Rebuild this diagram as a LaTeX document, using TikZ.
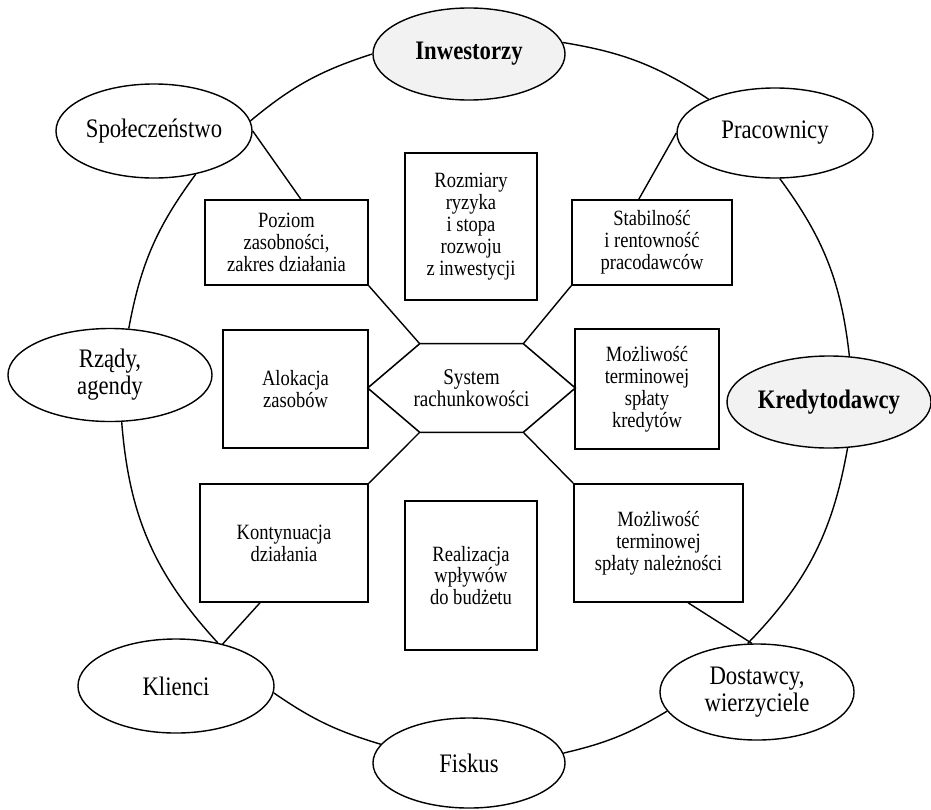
\documentclass[tikz,border=0pt]{standalone}
\usepackage{fontspec}
\setmainfont{Liberation Serif}[FakeStretch=0.85]
\usetikzlibrary{positioning,calc,shapes.geometric}
\definecolor{keyfill}{HTML}{F2F2F2}

\begin{document}
\begin{tikzpicture}[x=0.025cm,y=0.025cm,
    party/.style={ellipse,draw,line width=1pt,fill=white,inner sep=0pt,align=center,font=\fontsize{19}{19.2}\selectfont},
    keyparty/.style={party,fill=keyfill,font=\fontsize{19}{19.2}\selectfont\bfseries},
    info/.style={rectangle,draw,line width=1.1pt,inner sep=0pt,align=center,font=\fontsize{15.5}{15.6}\selectfont},
    link/.style={line width=1pt}]
\useasboundingbox (0,0) rectangle (931,-809);

\node[keyparty,minimum width=4.8cm,minimum height=2.3cm] (inw) at (469,-54) {Inwestorzy};
\node[party,minimum width=4.9cm,minimum height=2.35cm] (spol) at (154,-131) {Społeczeństwo};
\node[party,minimum width=4.9cm,minimum height=2.25cm] (prac) at (775,-133) {Pracownicy};
\node[party,minimum width=5.1cm,minimum height=2.325cm] (rzady) at (110,-375) {Rządy,\\agendy};
\node[keyparty,minimum width=5.1cm,minimum height=2.3cm] (kred) at (829,-402) {Kredytodawcy};
\node[party,minimum width=4.9cm,minimum height=2.35cm] (klienci) at (176,-686) {Klienci};
\node[party,minimum width=4.85cm,minimum height=2.4cm] (dost) at (757,-692) {Dostawcy,\\wierzyciele};
\node[party,minimum width=4.8cm,minimum height=2.25cm] (fiskus) at (469,-763) {Fiskus};

\node[info,minimum width=4.075cm,minimum height=2.125cm] (poziom) at (286.5,-242.5) {Poziom\\zasobności,\\zakres działania};
\node[info,minimum width=3.3cm,minimum height=3.675cm] (rozm) at (471,-226.5) {Rozmiary\\ryzyka\\i stopa\\rozwoju\\z inwestycji};
\node[info,minimum width=4cm,minimum height=2.125cm] (stab) at (652,-242.5) {Stabilność\\i rentowność\\pracodawców};
\node[info,minimum width=3.625cm,minimum height=2.95cm] (aloc) at (295.5,-389) {Alokacja\\zasobów};
\node[info,minimum width=3.6cm,minimum height=3cm] (kredyt) at (647,-389) {Możliwość\\terminowej\\spłaty\\kredytów};
\node[info,minimum width=4.2cm,minimum height=2.95cm] (kont) at (284,-543) {Kontynuacja\\działania};
\node[info,minimum width=3.3cm,minimum height=3.725cm] (real) at (471,-575.5) {Realizacja\\wpływów\\do budżetu};
\node[info,minimum width=4.225cm,minimum height=2.95cm] (nale) at (658.5,-543) {Możliwość\\terminowej\\spłaty należności};

\node[minimum width=5.175cm,minimum height=2.2cm,inner sep=0pt,align=center,font=\fontsize{16}{16}\selectfont] (sys) at (471.5,-388) {System\\rachunkowości};
\coordinate (hnw) at ($(sys.north west)+(52,0)$);
\coordinate (hne) at ($(sys.north east)+(-52,0)$);
\coordinate (hsw) at ($(sys.south west)+(52,0)$);
\coordinate (hse) at ($(sys.south east)+(-52,0)$);
\draw[line width=1.1pt] (sys.west) -- (hnw) -- (hne) -- (sys.east) -- (hse) -- (hsw) -- cycle;

\draw[link] (prac.153) to[bend right=12] (inw.7);
\draw[link] (inw.180) to[bend right=11] (spol.6);
\draw[link] (spol.-46) to[bend right=13] (rzady.68);
\draw[link] (rzady.-76) to[bend right=19] (klienci.46);
\draw[link] (klienci.-4) to[bend right=9] (fiskus.168);
\draw[link] (fiskus.6) to[bend right=9] (dost.192);
\draw[link] (dost.101) to[bend right=17] (kred.-68);
\draw[link] (kred.66) to[bend right=15] (prac.-84);

\draw[link] (spol.east) -- ([xshift=0.36cm]poziom.north);
\draw[link] (prac.west) -- ([xshift=-0.33cm]stab.north);
\draw[link] (poziom.south east) -- (hnw);
\draw[link] (hne) -- (stab.south west);
\draw[link] (hsw) -- (kont.north east);
\draw[link] (hse) -- (nale.north west);
\draw[link] ([xshift=-0.6cm]kont.south) -- (klienci.42);
\draw[link] ([xshift=0.74cm]nale.south) -- (dost.96);
\end{tikzpicture}
\end{document}
